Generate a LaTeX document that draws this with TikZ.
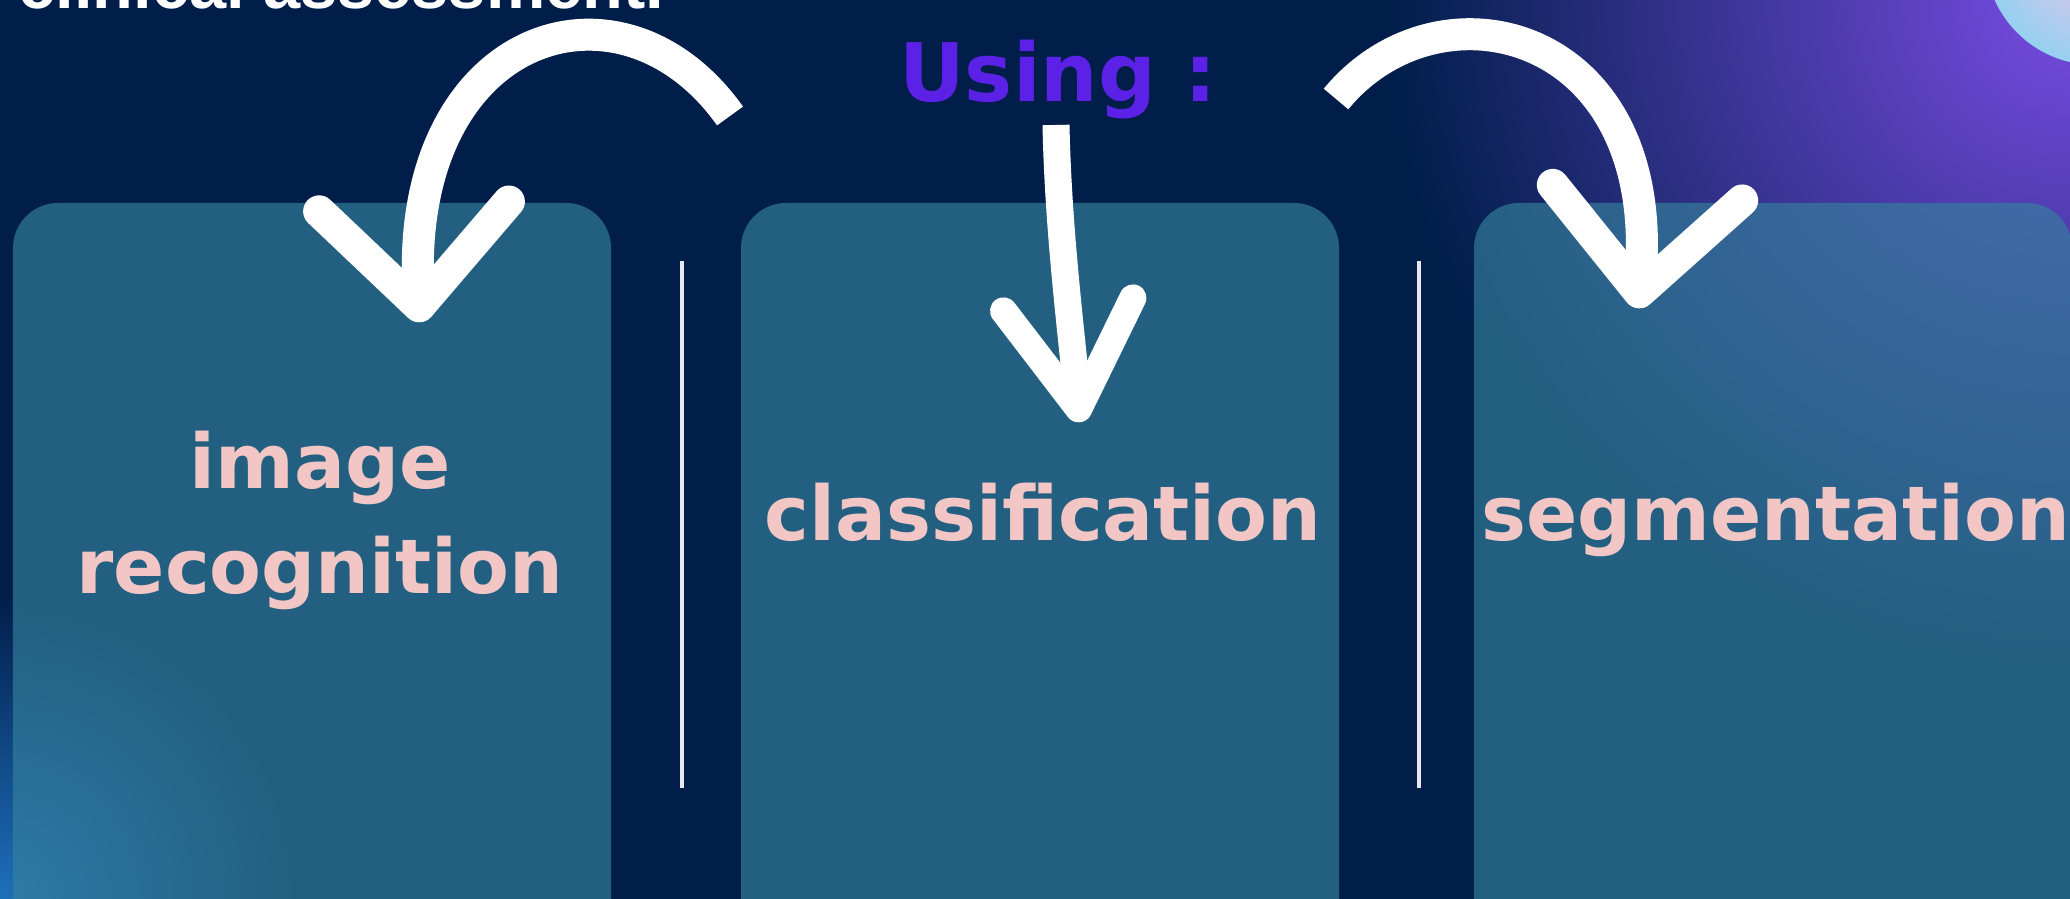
\documentclass[tikz,border=0pt]{standalone}
\usepackage{fontspec}
\setmainfont{DejaVu Sans}
\newfontfamily\headfont{Liberation Sans}
\usetikzlibrary{arrows.meta,calc}
\definecolor{navycolor}{RGB}{1, 30, 75}
\definecolor{panelcolor}{RGB}{53, 130, 157}
\definecolor{glowpurple}{RGB}{120, 76, 228}
\definecolor{glowblue}{RGB}{30, 112, 188}
\definecolor{usingcolor}{RGB}{92, 33, 230}
\definecolor{pinkcolor}{RGB}{243, 198, 198}
\definecolor{bubblepink}{RGB}{236, 196, 232}
\definecolor{bubbleblue}{RGB}{150, 208, 240}

\begin{document}
\begin{tikzpicture}[
    panel/.style={rectangle, fill=panelcolor, fill opacity=0.65, rounded corners=0.45cm, minimum width=5.98cm, minimum height=7.5cm, inner sep=0pt},
    tasktext/.style={text=pinkcolor, font=\bfseries\fontsize{21.5}{30}\selectfont, align=center, inner sep=0pt, anchor=base},
    curly/.style={draw=white, line width=0.32cm},
    divider/.style={draw=white!90!navycolor, line width=0.9pt}
]
    % Background
    \useasboundingbox (0,0) rectangle (20.7,8.99);
    \clip (0,0) rectangle (20.7,8.99);
    \fill[navycolor] (0,0) rectangle (20.7,8.99);
    \shade[inner color=glowpurple, outer color=navycolor] (20.7,8.99) circle (6.8cm);
    \shade[inner color=glowblue, outer color=navycolor] (0,0) circle (3cm);
    \shade[inner color=bubblepink, outer color=bubbleblue] (20.95,9.44) circle (1.1cm);

    % Heading (cut off at the top)
    \node[text=white, font=\headfont\bfseries\fontsize{19}{22}\selectfont, inner sep=0pt, anchor=base east] (heading) at (6.65,8.90) {clinical assessment.};

    % Three panels
    \node[panel] (recog) at (3.12,3.21) {};
    \node[panel] (classif) at (10.40,3.21) {};
    \node[panel] (segm) at (17.73,3.21) {};

    \draw[divider] (6.82,6.38) -- (6.82,1.11);
    \draw[divider] (14.19,6.38) -- (14.19,1.11);

    \node[tasktext] (recogtext) at (3.20,3.05) {image\\recognition};
    \node[tasktext] (classiftext) at (10.43,3.58) {classification};
    \node[tasktext] (segmtext) at (17.76,3.58) {segmentation};

    % Using
    \node[text=usingcolor, font=\bfseries\fontsize{23}{26}\selectfont, inner sep=0pt, anchor=base] (using) at (10.58,7.97) {Using :};

    % Arrows
    \draw[curly, -{Straight Barb[length=1.0cm, width=1.9cm, round]}] ($(using.base)+(-3.28,-0.14)$) .. controls +(-1.10,1.55) and +(-0.15,2.9) .. ($(recog.north)+(1.08,-1.20)$);
    \draw[curly, line width=0.27cm, -{Straight Barb[length=1.05cm, width=1.3cm, round]}] ($(using.base)+(-0.02,-0.23)$) .. controls +(0.02,-1.0) and +(-0.1,1.0) .. ($(classif.north)+(0.40,-2.20)$);
    \draw[curly, -{Straight Barb[length=1.0cm, width=1.9cm, round]}] ($(using.base)+(2.78,0.03)$) .. controls +(1.03,1.25) and +(0.23,2.80) .. ($(segm.north)+(-1.35,-1.06)$);
\end{tikzpicture}
\end{document}
